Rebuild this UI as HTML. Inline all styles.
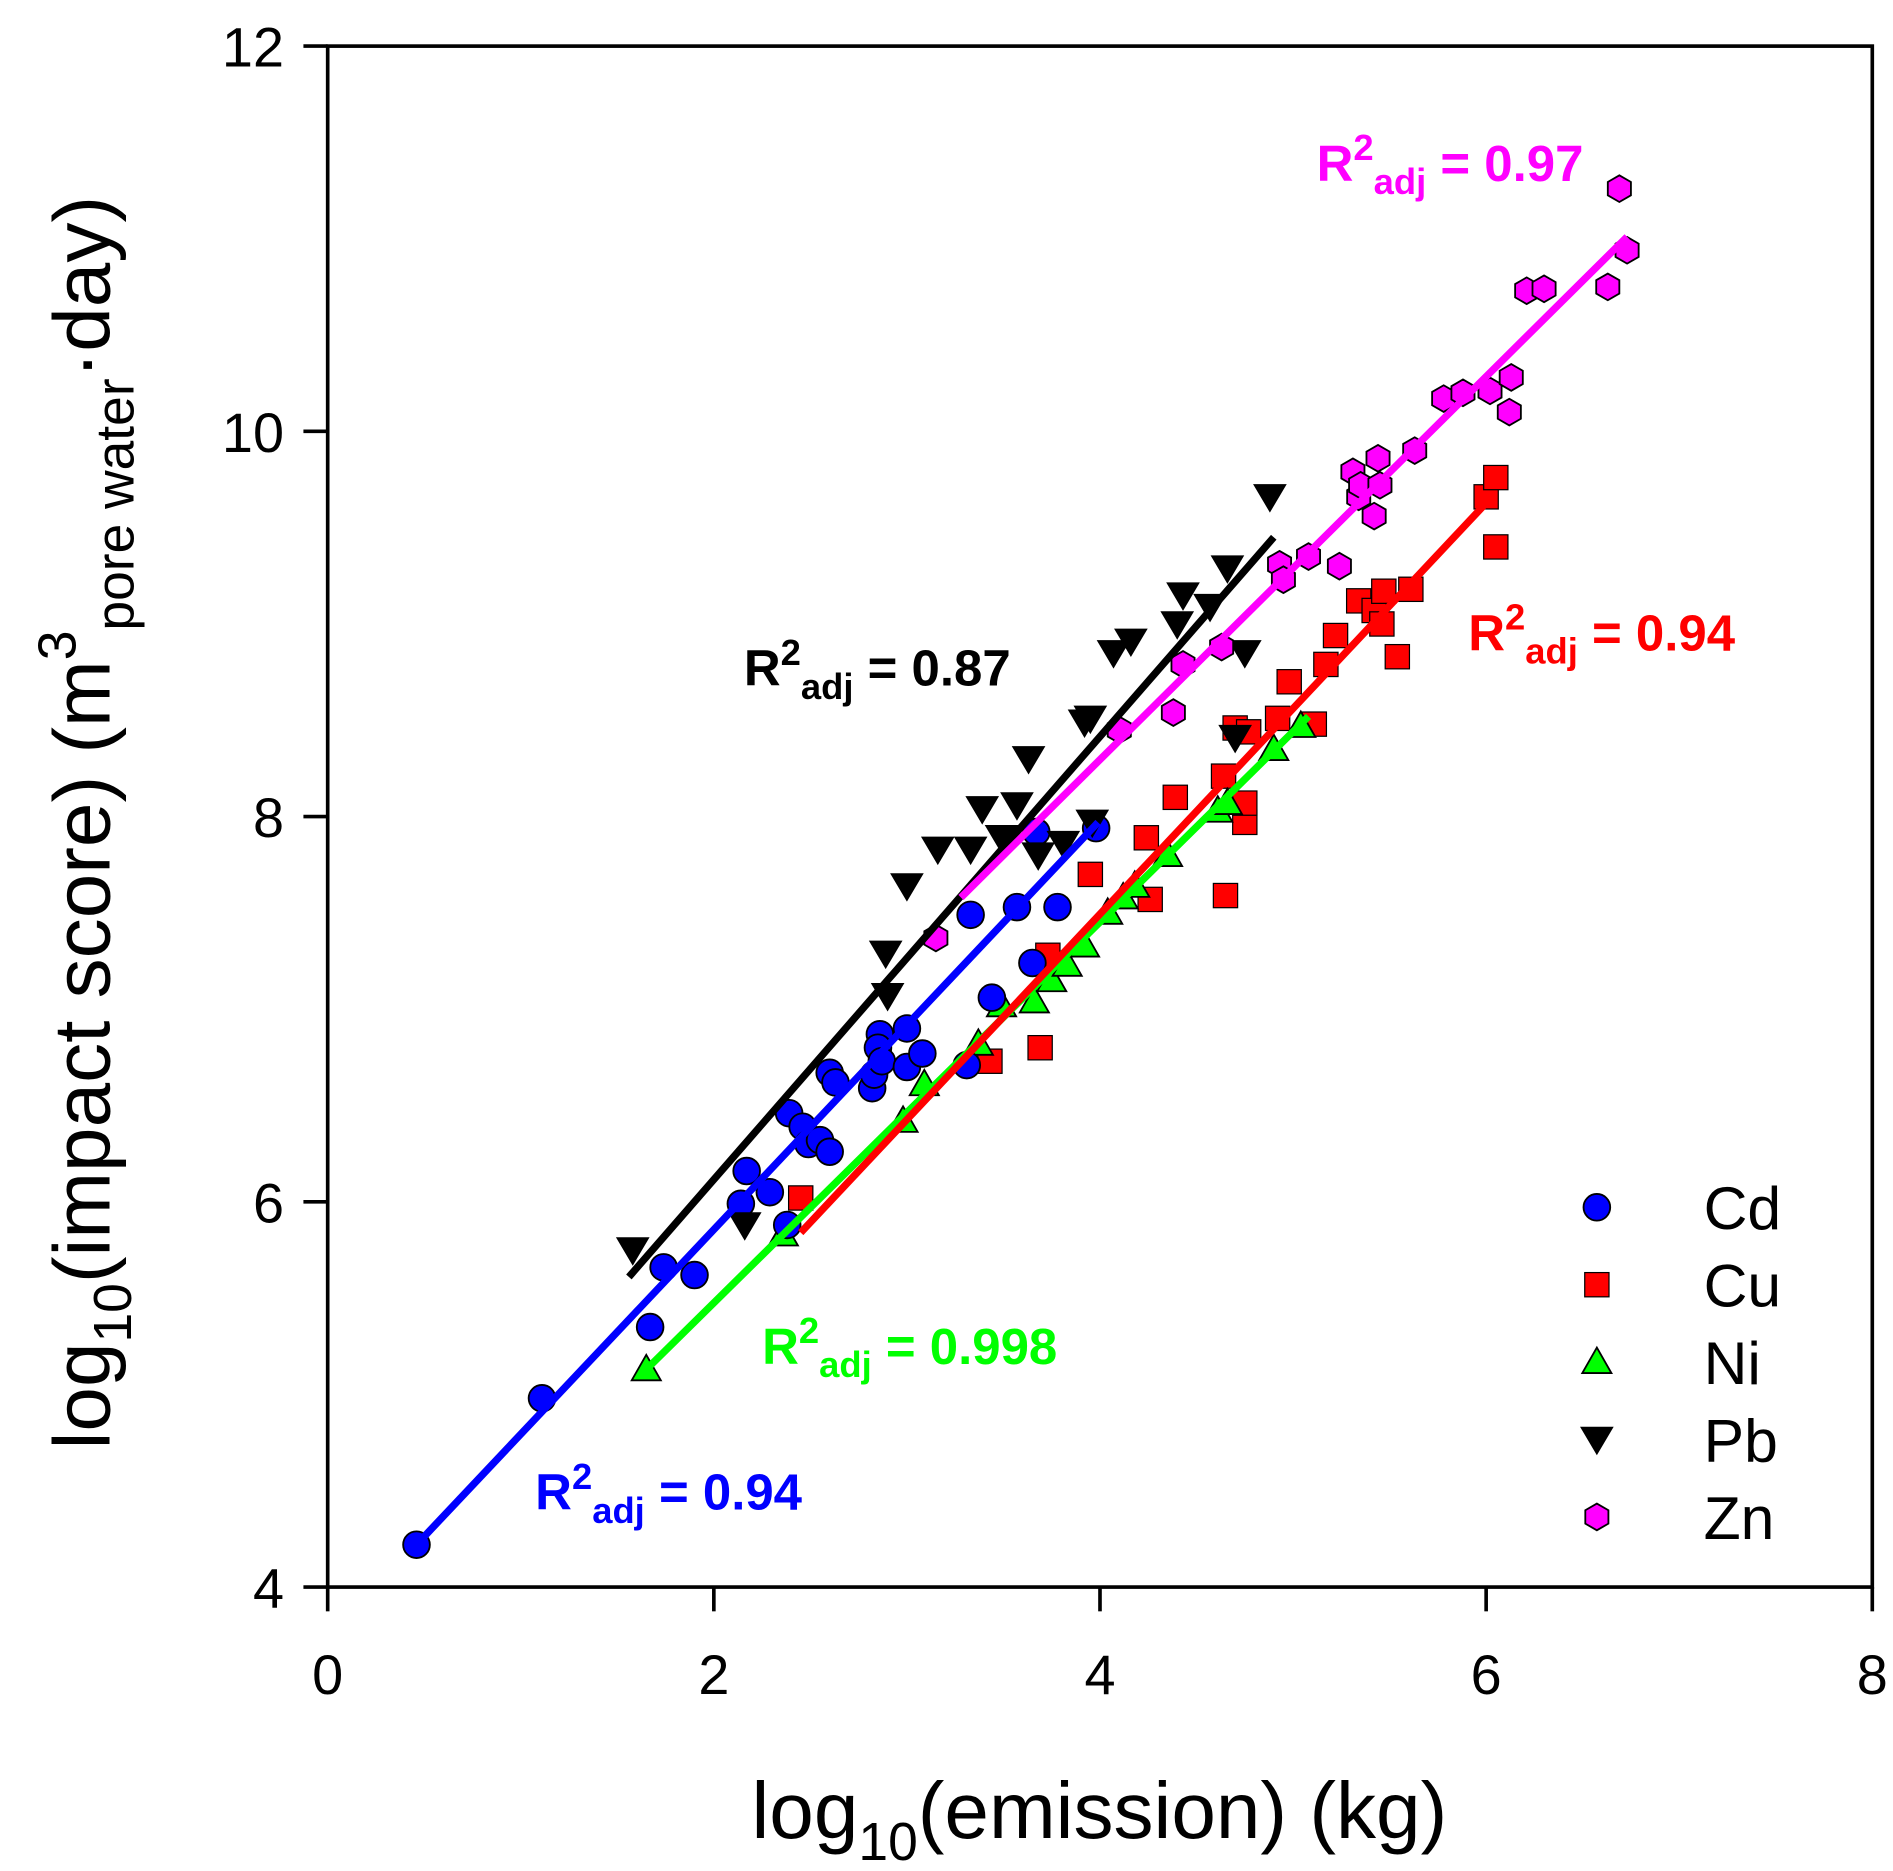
<!DOCTYPE html>
<html><head><meta charset="utf-8"><style>
html,body{margin:0;padding:0;background:#fff}
svg{display:block}
text{font-family:"Liberation Sans",Arial,sans-serif}
</style></head><body>
<svg id="chart" width="1893" height="1871" viewBox="0 0 1560 1542" xmlns="http://www.w3.org/2000/svg">
<rect width="1560" height="1542" fill="#fff"/>
<g id="plot"></g>
</svg>
<script>
const xTicks=[0,2,4,6,8];
const yTicks=[4,6,8,10,12];
const cdX=[0.46,1.11,1.67,1.74,1.90,2.14,2.17,2.29,2.38,2.39,2.46,2.49,2.55,2.60,2.60,2.63,2.82,2.83,2.86,2.85,2.87,3.00,3.00,3.08,3.31,3.33,3.44,3.57,3.65,3.67,3.78,3.98];
const cdY=[4.22,4.98,5.35,5.66,5.62,5.99,6.16,6.05,5.88,6.46,6.39,6.30,6.32,6.26,6.67,6.62,6.59,6.66,6.87,6.80,6.73,6.70,6.90,6.77,6.71,7.49,7.06,7.53,7.24,7.92,7.53,7.94];
const cuX=[2.45,3.43,3.69,3.73,3.95,4.24,4.26,4.39,4.65,4.64,4.70,4.75,4.75,4.77,4.92,4.98,5.11,5.17,5.22,5.34,5.42,5.46,5.47,5.54,5.61,6.00,6.05,6.05];
const cuY=[6.02,6.73,6.80,7.28,7.70,7.89,7.57,8.10,7.59,8.21,8.46,7.97,8.07,8.44,8.51,8.70,8.48,8.79,8.94,9.12,9.07,9.00,9.17,8.83,9.18,9.66,9.76,9.40];
const niX=[1.65,2.36,2.98,3.09,3.37,3.49,3.66,3.75,3.83,3.92,4.04,4.12,4.18,4.35,4.61,4.66,4.90,5.04];
const niY=[5.13,5.83,6.42,6.61,6.82,7.02,7.04,7.15,7.23,7.33,7.50,7.58,7.64,7.80,8.03,8.07,8.35,8.47];
const pbX=[1.58,2.16,2.89,2.90,3.00,3.16,3.33,3.39,3.49,3.57,3.63,3.68,3.81,3.92,3.95,3.96,4.07,4.16,4.40,4.43,4.57,4.66,4.70,4.75,4.88];
const pbY=[5.75,5.88,7.29,7.07,7.64,7.83,7.83,8.04,7.89,8.06,8.30,7.80,7.86,8.49,8.51,7.97,8.85,8.91,9.00,9.15,9.09,9.29,8.41,8.85,9.66];
const znX=[3.15,4.10,4.38,4.43,4.63,4.93,4.95,5.08,5.24,5.31,5.34,5.35,5.42,5.44,5.45,5.63,5.78,5.88,6.02,6.13,6.12,6.21,6.30,6.63,6.69,6.73];
const znY=[7.37,8.45,8.54,8.79,8.88,9.31,9.23,9.35,9.30,9.79,9.66,9.72,9.56,9.86,9.72,9.90,10.17,10.20,10.21,10.28,10.10,10.73,10.74,10.75,11.26,10.94];
const fitPb=[[1.56,5.61],[4.90,9.45]];
const fitZn=[[3.28,7.58],[6.73,11.01]];
const fitCd=[[0.46,4.22],[3.99,7.97]];
const fitCu=[[2.45,5.84],[6.03,9.66]];
const fitNi=[[1.62,5.10],[5.08,8.52]];

const L=270,R=1543,T=38,B=1308;
const sx=v=>L+(v-0)/8*(R-L);
const sy=v=>B-(v-4)/8*(B-T);
const NS="http://www.w3.org/2000/svg";
const g=document.getElementById('plot');
function mk(tag,attrs,parent){const e=document.createElementNS(NS,tag);for(const k in attrs)e.setAttribute(k,attrs[k]);(parent||g).appendChild(e);return e;}

let fr=mk('rect',{x:L,y:T,width:R-L,height:B-T,fill:'none',stroke:'#000','stroke-width':3});


xTicks.forEach(t=>{
  let l=mk('line',{x1:sx(t),x2:sx(t),y1:B,y2:B+20,stroke:'#000','stroke-width':3});
  
  
  let tx=mk('text',{x:sx(t),y:B+88,'font-size':46,'text-anchor':'middle'});tx.textContent=t;
  
  
});
yTicks.forEach(t=>{
  let l=mk('line',{x1:L-20,x2:L,y1:sy(t),y2:sy(t),stroke:'#000','stroke-width':3});
  
  
  let tx=mk('text',{x:L-36,y:sy(t)+17,'font-size':46,'text-anchor':'end'});tx.textContent=t;
  
  
});

function line(f,col,name){let l=mk('line',{x1:sx(f[0][0]),y1:sy(f[0][1]),x2:sx(f[1][0]),y2:sy(f[1][1]),stroke:col,'stroke-width':6});
  
  }
function marker(shape,x,y,col,parent){
  let e;
  if(shape==='circle')e=mk('circle',{cx:x,cy:y,r:11,fill:col,stroke:'#000','stroke-width':1.5},parent);
  else if(shape==='square')e=mk('rect',{x:x-10,y:y-10,width:20,height:20,fill:col,stroke:'#000','stroke-width':1},parent);
  else if(shape==='tri')e=mk('polygon',{points:`${x},${y-12} ${x+12},${y+9} ${x-12},${y+9}`,fill:col,stroke:'#000','stroke-width':1.5},parent);
  else if(shape==='dtri')e=mk('polygon',{points:`${x-13},${y-10} ${x+13},${y-10} ${x},${y+12}`,fill:col,stroke:'#000','stroke-width':1},parent);
  else {let p=[];for(let i=0;i<6;i++){const a=Math.PI/6+i*Math.PI/3;p.push((x+11*Math.cos(a))+','+(y+11*Math.sin(a)));}
    e=mk('polygon',{points:p.join(' '),fill:col,stroke:'#000','stroke-width':1.5},parent);}
  return e;
}
function series(xs,ys,shape,col,name){
  const sg=mk('g',{});
  
  
  xs.forEach((v,i)=>{const m=marker(shape,sx(v),sy(ys[i]),col,sg);
    
    });
}
series(cuX,cuY,'square','#ff0000','cu');
series(niX,niY,'tri','#00ff00','ni');
series(cdX,cdY,'circle','#0000ff','cd');
series(pbX,pbY,'dtri','#000000','pb');
series(znX,znY,'hex','#ff00ff','zn');
line(fitNi,'#00ff00','ni-fit-line');
line(fitCu,'#ff0000','cu-fit-line');
line(fitCd,'#0000ff','cd-fit-line');
line(fitPb,'#000000','pb-fit-line');
line(fitZn,'#ff00ff','zn-fit-line');

function rlabel(x,y,col,val,name){
  const t=mk('text',{x:x,y:y,'font-size':42,'font-weight':'bold',fill:col});
  
  
  t.innerHTML=`R<tspan dy="-17" font-size="30">2</tspan><tspan dy="28" font-size="30">adj</tspan><tspan dy="-11"> = ${val}</tspan>`;
}
rlabel(613,565,'#000','0.87','pb-r2-label');
rlabel(1085,149,'#ff00ff','0.97','zn-r2-label');
rlabel(1210,536,'#ff0000','0.94','cu-r2-label');
rlabel(628,1124,'#00ff00','0.998','ni-r2-label');
rlabel(441,1244,'#0000ff','0.94','cd-r2-label');

const legNames=['Cd','Cu','Ni','Pb','Zn'];
const legShapes=['circle','square','tri','dtri','hex'];
const legCols=['#0000ff','#ff0000','#00ff00','#000000','#ff00ff'];
legNames.forEach((n,i)=>{
  const y=995+i*63.8;
  const lg=mk('g',{});
  
  
  marker(legShapes[i],1316,y,legCols[i],lg);
  const t=mk('text',{x:1404,y:y+18,'font-size':50},lg);t.textContent=n;
});

let xt=mk('text',{x:906,y:1515,'font-size':66,'text-anchor':'middle'});


xt.innerHTML='log<tspan dy="18" font-size="44">10</tspan><tspan dy="-18">(emission) (kg)</tspan>';
let yt=mk('text',{x:0,y:0,'font-size':66,'text-anchor':'middle',transform:'translate(90,678) rotate(-90)'});


yt.innerHTML='log<tspan dy="18" font-size="44">10</tspan><tspan dy="-18">(impact score) (m</tspan><tspan dy="-28" font-size="44">3</tspan><tspan dy="48" font-size="44">pore water</tspan><tspan dy="-20">·day)</tspan>';
</script>
</body></html>
